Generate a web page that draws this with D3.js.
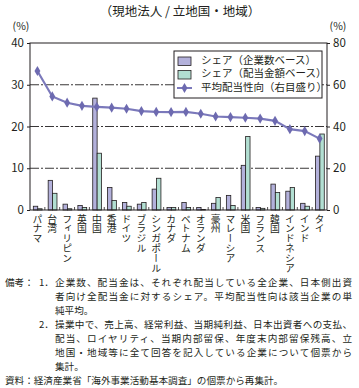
<!DOCTYPE html>
<html><head><meta charset="utf-8">
<script src="https://cdn.jsdelivr.net/npm/d3@7"></script>
<style>
html,body{margin:0;padding:0;background:#fff;}
svg text{font-family:"Noto Sans CJK JP","Noto Sans",sans-serif;fill:#231f20;}
</style></head>
<body><svg id="c" width="359" height="388"></svg>
<script>
const categories = ["パナマ","台湾","フィリピン","英国","中国","香港","ドイツ","ブラジル","シンガポール","カナダ","ベトナム","オランダ","豪州","マレーシア","米国","フランス","韓国","インドネシア","インド","タイ"];
const shareCompanies = [0.9,7.1,1.4,1.1,26.8,5.4,1.8,1.4,5.0,0.6,1.8,0.6,1.6,3.5,10.7,0.6,6.2,4.5,1.6,12.9];
const shareDividends = [0.3,4.0,0.3,0.6,13.6,2.3,0.9,1.8,7.6,0.6,0.6,0.1,3.0,1.1,17.6,0.4,4.2,5.4,0.9,18.2];
const payoutRatio = [66.6,54.4,51.4,49.9,49.4,49.0,48.5,47.4,47.0,46.9,47.0,46.1,44.8,44.5,44.2,43.8,42.7,38.7,37.8,34.2];
const leftTicks = [0,10,20,30,40];
const rightTicks = [0,20,40,60,80];
const legendLabels = ["シェア（企業数ベース）","シェア（配当金額ベース）","平均配当性向（右目盛り）"];
const title = "（現地法人 / 立地国・地域）";
const notes = [
  {x:5, t:"備考：", y:283},
  {x:39, t:"1．", y:283},
  {x:55, t:"企業数、配当金は、それぞれ配当している全企業、日本側出資", y:283, w:297},
  {x:55, t:"者向け全配当金に対するシェア。平均配当性向は該当企業の単", y:297, w:297},
  {x:55, t:"純平均。", y:311},
  {x:39, t:"2．", y:325},
  {x:55, t:"操業中で、売上高、経常利益、当期純利益、日本出資者への支払、", y:325, w:297},
  {x:55, t:"配当、ロイヤリティ、当期内部留保、年度末内部留保残高、立", y:339, w:297},
  {x:55, t:"地国・地域等に全て回答を記入している企業について個票から", y:353, w:297},
  {x:55, t:"集計。", y:367},
  {x:5, t:"資料：経済産業省「海外事業活動基本調査」の個票から再集計。", y:381}
];

const svg = d3.select("#c");
const L=30, R=327, T=43, B=210;
const x = d3.scaleBand().domain(categories).range([L,R]);
const yL = d3.scaleLinear().domain([0,40]).range([B,T]);
const yR = d3.scaleLinear().domain([0,80]).range([B,T]);
const purple="#b3b1db", green="#b2dfd2", lineC="#7b79bb", markC="#6d6ab0";

svg.append("text").attr("x",180).attr("y",13).attr("text-anchor","middle")
  .attr("dominant-baseline","middle").attr("font-size",12.5).text(title);

// grid
svg.append("g").selectAll("line").data([10,20,30]).join("line")
  .attr("x1",L).attr("x2",R).attr("y1",d=>yL(d)).attr("y2",d=>yL(d))
  .attr("stroke","#231f20").attr("stroke-width",0.9).attr("stroke-dasharray","9,2,2,2");

// bars
const bw = 4.4;
const g = svg.append("g");
g.selectAll("rect.a").data(shareCompanies).join("rect").attr("class","a")
  .attr("x",(d,i)=>x(categories[i])+x.bandwidth()/2-bw+0.3).attr("width",bw)
  .attr("y",d=>yL(d)).attr("height",d=>B-yL(d))
  .attr("fill",purple).attr("stroke","#231f20").attr("stroke-width",0.8);
g.selectAll("rect.b").data(shareDividends).join("rect").attr("class","b")
  .attr("x",(d,i)=>x(categories[i])+x.bandwidth()/2+0.3).attr("width",bw)
  .attr("y",d=>yL(d)).attr("height",d=>B-yL(d))
  .attr("fill",green).attr("stroke","#231f20").attr("stroke-width",0.8);

// line
const line = d3.line().x((d,i)=>x(categories[i])+x.bandwidth()/2).y(d=>yR(d));
svg.append("path").datum(payoutRatio).attr("d",line).attr("fill","none")
  .attr("stroke",lineC).attr("stroke-width",2.2);
const diamond = d3.symbol().type(d3.symbolDiamond).size(30);
svg.append("g").selectAll("path").data(payoutRatio).join("path")
  .attr("d",diamond).attr("transform",(d,i)=>`translate(${x(categories[i])+x.bandwidth()/2},${yR(d)})`)
  .attr("fill",markC);

// frame
svg.append("rect").attr("x",L).attr("y",T).attr("width",R-L).attr("height",B-T)
  .attr("fill","none").attr("stroke","#231f20").attr("stroke-width",1);

// axes
const axL = svg.append("g").attr("transform",`translate(${L},0)`)
  .call(d3.axisLeft(yL).tickValues(leftTicks).tickSize(3).tickPadding(3));
const axR = svg.append("g").attr("transform",`translate(${R},0)`)
  .call(d3.axisRight(yR).tickValues(rightTicks).tickSize(3).tickPadding(3));
[axL,axR].forEach(a=>{
  a.select(".domain").remove();
  a.selectAll("line").attr("stroke","#231f20");
  a.selectAll("text").attr("font-size",11.5).attr("font-family","'Noto Sans','DejaVu Sans',sans-serif").attr("fill","#231f20");
});
// bottom category boundary ticks
svg.append("g").selectAll("line").data(categories.slice(1)).join("line")
  .attr("x1",d=>x(d)).attr("x2",d=>x(d)).attr("y1",B).attr("y2",B-3)
  .attr("stroke","#231f20").attr("stroke-width",0.8);

svg.append("text").attr("x",21).attr("y",30).attr("text-anchor","middle").attr("font-size",10.5).text("(%)");
svg.append("text").attr("x",338).attr("y",30).attr("text-anchor","middle").attr("font-size",10.5).text("(%)");

// category labels vertical
svg.append("g").selectAll("text").data(categories).join("text")
  .attr("x",d=>x(d)+x.bandwidth()/2).attr("y",214)
  .style("writing-mode","vertical-rl").style("text-orientation","upright")
  .attr("font-size",9.8).text(d=>d);

// legend
const lg = svg.append("g");
lg.append("rect").attr("x",174).attr("y",51).attr("width",148).attr("height",47)
  .attr("fill","#fff").attr("stroke","#231f20").attr("stroke-width",1);
const rows=[61,74.5,88];
lg.append("rect").attr("x",178).attr("y",rows[0]-4).attr("width",13).attr("height",8.5).attr("fill",purple).attr("stroke","#231f20").attr("stroke-width",0.8);
lg.append("rect").attr("x",178).attr("y",rows[1]-4).attr("width",13).attr("height",8.5).attr("fill",green).attr("stroke","#231f20").attr("stroke-width",0.8);
lg.append("line").attr("x1",177).attr("x2",192).attr("y1",rows[2]).attr("y2",rows[2]).attr("stroke",lineC).attr("stroke-width",2);
lg.append("path").attr("d",diamond).attr("transform",`translate(184.5,${rows[2]})`).attr("fill",markC);
lg.selectAll("text").data(legendLabels).join("text").attr("x",201).attr("y",(d,i)=>rows[i])
  .attr("dominant-baseline","middle").attr("font-size",10.5).text(d=>d);

// notes
svg.append("g").selectAll("text").data(notes).join("text")
  .attr("x",d=>d.x).attr("y",d=>d.y).attr("dominant-baseline","middle").attr("font-size",9.6)
  .each(function(d){ if(d.w){ d3.select(this).attr("textLength",d.w).attr("lengthAdjust","spacing"); } })
  .text(d=>d.t);
</script></body></html>
